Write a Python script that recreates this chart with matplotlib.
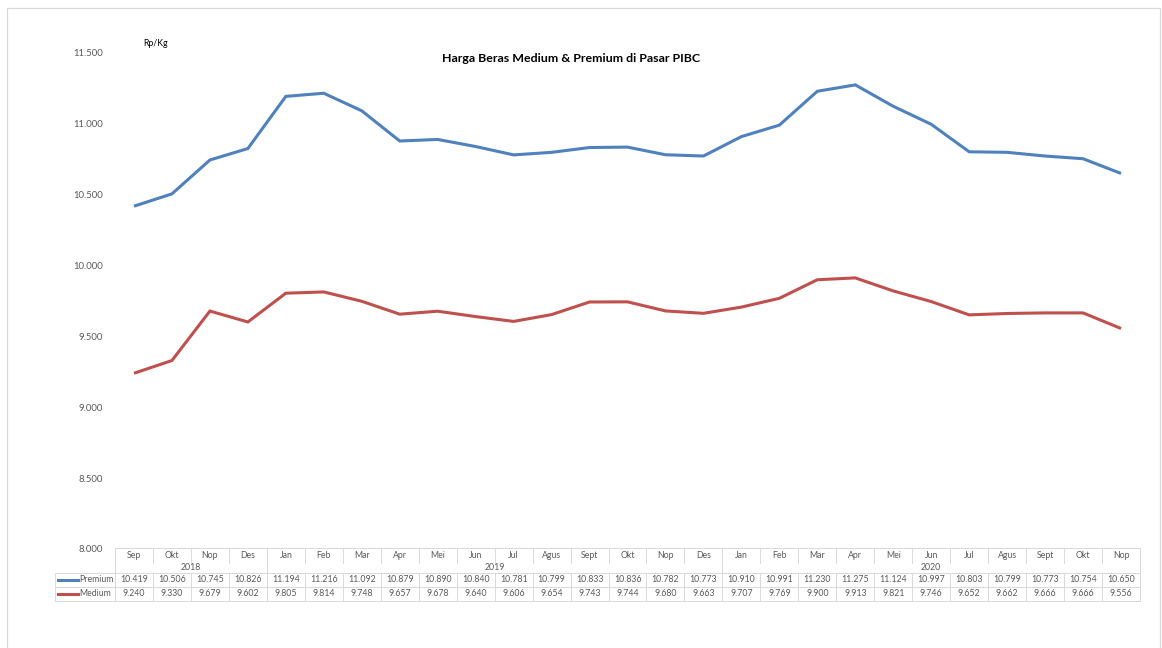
import matplotlib
matplotlib.use("Agg")
import matplotlib.pyplot as plt
from matplotlib.patches import Rectangle
from matplotlib.lines import Line2D

plt.rcParams['font.family'] = ['Lato', 'DejaVu Sans']

months = ["Sep", "Okt", "Nop", "Des",
          "Jan", "Feb", "Mar", "Apr", "Mei", "Jun", "Jul", "Agus", "Sept", "Okt", "Nop", "Des",
          "Jan", "Feb", "Mar", "Apr", "Mei", "Jun", "Jul", "Agus", "Sept", "Okt", "Nop"]
years = ["2018", "2019", "2020"]
year_counts = [4, 12, 11]
premium = [10419, 10506, 10745, 10826,
           11194, 11216, 11092, 10879, 10890, 10840, 10781, 10799, 10833, 10836, 10782, 10773,
           10910, 10991, 11230, 11275, 11124, 10997, 10803, 10799, 10773, 10754, 10650]
medium = [9240, 9330, 9679, 9602,
          9805, 9814, 9748, 9657, 9678, 9640, 9606, 9654, 9743, 9744, 9680, 9663,
          9707, 9769, 9900, 9913, 9821, 9746, 9652, 9662, 9666, 9666, 9556]
yticks = [8000, 8500, 9000, 9500, 10000, 10500, 11000, 11500]

BLUE = "#4F81BD"
RED = "#C0504D"
GRID = "#D9D9D9"
TXT = "#595959"

W, H = 1162, 648
fig = plt.figure(figsize=(W / 100, H / 100), dpi=100)


def fx(px):
    return px / W


def fy(py):
    return 1 - py / H


def fmt(v):
    return f"{v // 1000}.{v % 1000:03d}"


# outer chart frame (open at the bottom edge of the canvas)
fig.patches.append(Rectangle((fx(6.5), fy(660)), fx(1153.5), 652 / H, transform=fig.transFigure,
                             fill=False, edgecolor="#D9D9D9", linewidth=0.9))

x0, x1 = 115, 1140
y_top, y_bot = 53, 549
ax = fig.add_axes([fx(x0), fy(y_bot), fx(x1 - x0), (y_bot - y_top) / H])
n = len(months)
ax.set_xlim(-0.5, n - 0.5)
ax.set_ylim(8000, 11500)
for s in ax.spines.values():
    s.set_visible(False)
ax.set_xticks([])
ax.set_yticks(yticks)
ax.set_yticklabels([fmt(v) for v in yticks])
ax.tick_params(axis="y", length=0, pad=8.5, labelsize=6.8, labelcolor=TXT)

xs = list(range(n))
ax.plot(xs, premium, color=BLUE, linewidth=2.2, solid_joinstyle="miter", solid_capstyle="butt")
ax.plot(xs, medium, color=RED, linewidth=2.2, solid_joinstyle="miter", solid_capstyle="butt")

fig.text(fx(571.5), fy(59), "Harga Beras Medium & Premium di Pasar PIBC", ha="center", va="center",
         fontsize=8.9, fontweight="bold", color="#000000")
fig.text(fx(143), fy(44), "Rp/Kg", ha="left", va="center", fontsize=6.3, color="#000000")

# data table beneath the plot
colw = (x1 - x0) / n
r_month, r_year, r_prem, r_med, r_end = 548, 563, 573, 587, 601
leg_x = 55


def hline(y, xa, xb):
    fig.add_artist(Line2D([fx(xa), fx(xb)], [fy(y), fy(y)], color=GRID, linewidth=0.7))


def vline(x, ya, yb):
    fig.add_artist(Line2D([fx(x), fx(x)], [fy(ya), fy(yb)], color=GRID, linewidth=0.7))


hline(r_month, x0, x1)
hline(r_prem, leg_x, x1)
hline(r_med, leg_x, x1)
hline(r_end, leg_x, x1)
vline(leg_x, r_prem, r_end)
vline(x0, r_month, r_end)
vline(x1, r_month, r_end)
for i in range(1, n):
    vline(x0 + i * colw, r_month, r_year)
    vline(x0 + i * colw, r_prem, r_end)
acc = 0
for c in year_counts[:-1]:
    acc += c
    vline(x0 + acc * colw, r_year, r_prem)

fs = 6.3
for i, mname in enumerate(months):
    cx = fx(x0 + (i + 0.5) * colw)
    fig.text(cx, fy((r_month + r_year) / 2), mname, ha="center", va="center", fontsize=fs, color=TXT)
    fig.text(cx, fy((r_prem + r_med) / 2), fmt(premium[i]),
             ha="center", va="center", fontsize=fs, color=TXT)
    fig.text(cx, fy((r_med + r_end) / 2), fmt(medium[i]),
             ha="center", va="center", fontsize=fs, color=TXT)
acc = 0
for yname, c in zip(years, year_counts):
    cx = fx(x0 + (acc + c / 2) * colw)
    fig.text(cx, fy((r_year + r_prem) / 2), yname, ha="center", va="center", fontsize=fs, color=TXT)
    acc += c

for label, col, (ya, yb) in [("Premium", BLUE, (r_prem, r_med)), ("Medium", RED, (r_med, r_end))]:
    yc = fy((ya + yb) / 2)
    fig.add_artist(Line2D([fx(58), fx(78)], [yc, yc], color=col, linewidth=2.2))
    fig.text(fx(79), yc, label, ha="left", va="center", fontsize=fs, color=TXT)

fig.savefig("out.png", dpi=100, facecolor="white")
